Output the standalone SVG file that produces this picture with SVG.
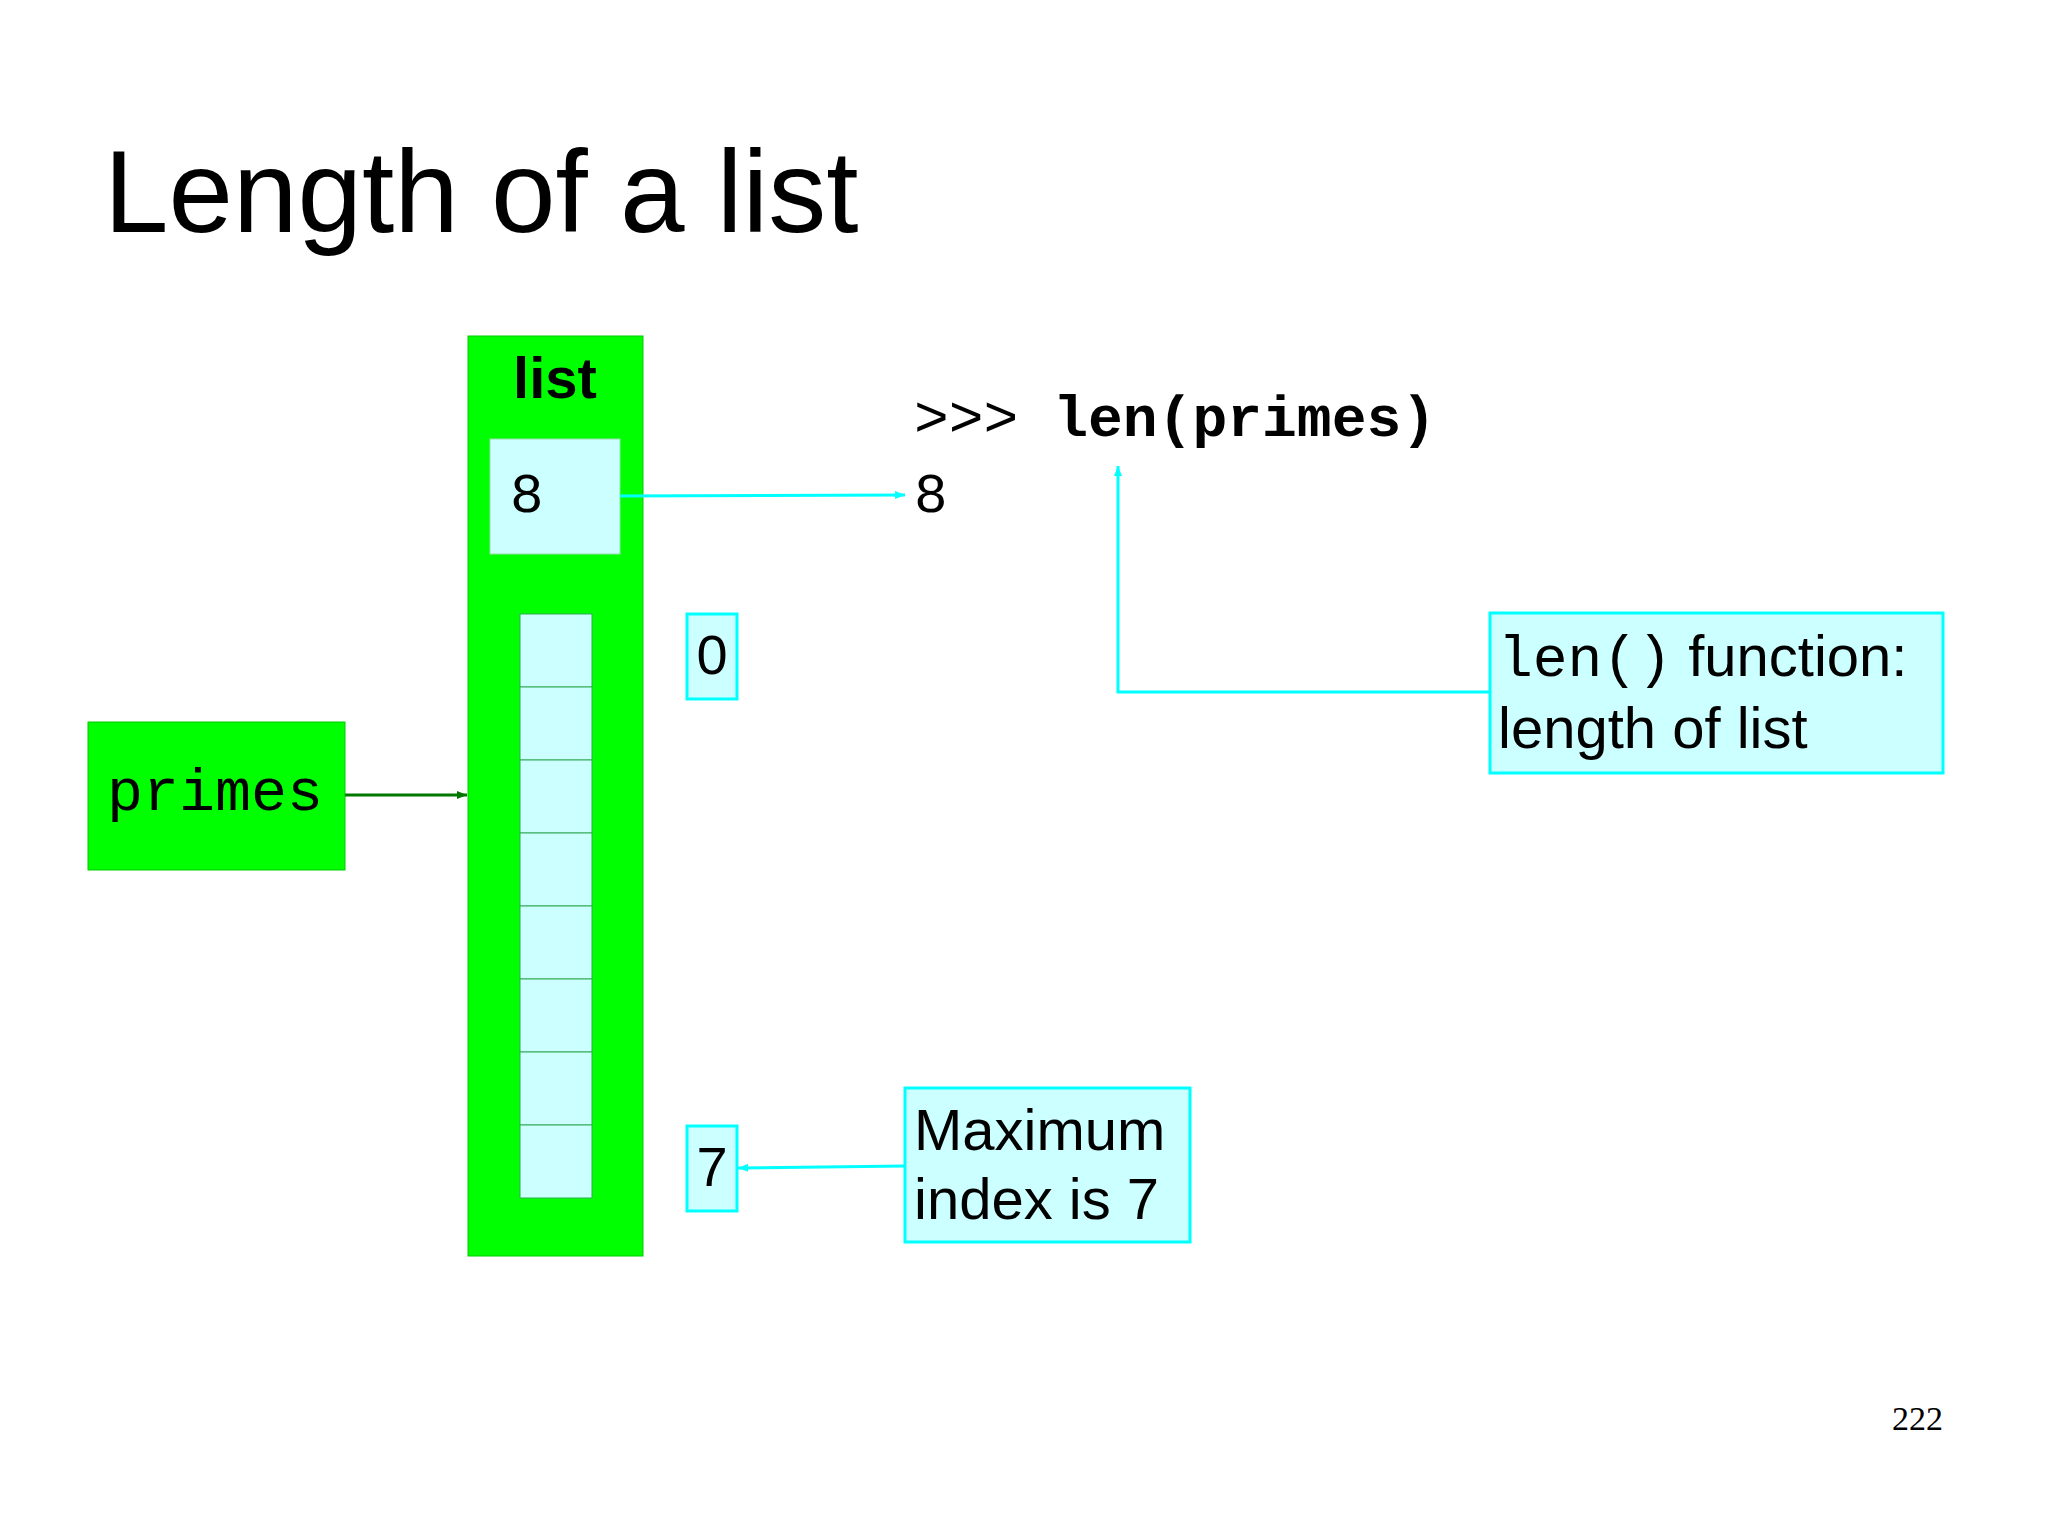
<svg xmlns="http://www.w3.org/2000/svg" width="2048" height="1535" viewBox="0 0 2048 1535">
<style>
.s{font-family:"Liberation Sans",Arial,sans-serif}
.m{font-family:"Liberation Mono","DejaVu Sans Mono",monospace}
.cy{fill:#ccffff;stroke:#00ffff;stroke-width:3}
.cell{fill:#ccffff;stroke:#33aa55;stroke-width:1}
</style>
<defs>
<marker id="ac" markerWidth="10" markerHeight="8" refX="10" refY="4" orient="auto" markerUnits="userSpaceOnUse" viewBox="0 0 10 8"><path d="M0,0L10,4L0,8z" fill="#00ffff"/></marker>
<marker id="ag" markerWidth="10" markerHeight="8" refX="10" refY="4" orient="auto" markerUnits="userSpaceOnUse" viewBox="0 0 10 8"><path d="M0,0L10,4L0,8z" fill="#007700"/></marker>
</defs>
<rect width="2048" height="1535" fill="#fff"/>
<text class="s" x="104" y="232" font-size="116">Length of a list</text>
<g id="list">
<rect x="468" y="336" width="175" height="920" fill="#00ff00" stroke="#00cc00"/>
<text class="s" x="555" y="398" font-size="58" font-weight="bold" text-anchor="middle">list</text>
<rect x="490" y="439" width="130" height="115" fill="#ccffff" stroke="#99ddaa"/>
<text class="m" x="510" y="512" font-size="56">8</text>
<g class="cell">
<rect x="520" y="614" width="72" height="73"/><rect x="520" y="687" width="72" height="73"/><rect x="520" y="760" width="72" height="73"/><rect x="520" y="833" width="72" height="73"/><rect x="520" y="906" width="72" height="73"/><rect x="520" y="979" width="72" height="73"/><rect x="520" y="1052" width="72" height="73"/><rect x="520" y="1125" width="72" height="73"/>
</g>
</g>
<g id="idx0"><rect class="cy" x="687" y="614" width="50" height="85"/><text class="s" x="712" y="674" font-size="56" text-anchor="middle">0</text></g>
<g id="idx7"><rect class="cy" x="687" y="1126" width="50" height="85"/><text class="s" x="712" y="1186" font-size="56" text-anchor="middle">7</text></g>
<g id="primes"><rect x="88" y="722" width="257" height="148" fill="#00ff00" stroke="#00cc00"/><text class="m" x="107" y="810" font-size="60">primes</text></g>
<g id="code"><text class="m" x="914" y="436" font-size="58">&gt;&gt;&gt; <tspan font-weight="bold">len(primes)</tspan></text><text class="m" x="914" y="512" font-size="56">8</text></g>
<g id="lenbox"><rect class="cy" x="1490" y="613" width="453" height="160"/><text class="s" x="1498" y="676" font-size="58"><tspan class="m">len()</tspan> function:</text><text class="s" x="1498" y="748" font-size="58">length of list</text></g>
<g id="maxbox"><rect class="cy" x="905" y="1088" width="285" height="154"/><text class="s" x="914" y="1150" font-size="58">Maximum</text><text class="s" x="914" y="1219" font-size="58">index is 7</text></g>
<g id="connectors" fill="none">
<line x1="345" y1="795" x2="467" y2="795" stroke="#007700" stroke-width="3" marker-end="url(#ag)"/>
<line x1="620" y1="496" x2="905" y2="495" stroke="#00ffff" stroke-width="3" marker-end="url(#ac)"/>
<polyline points="1490,692 1118,692 1118,466" stroke="#00ffff" stroke-width="3" marker-end="url(#ac)"/>
<line x1="905" y1="1166" x2="738" y2="1168" stroke="#00ffff" stroke-width="3" marker-end="url(#ac)"/>
</g>
<text x="1943" y="1430" font-family="Liberation Serif,serif" font-size="34" text-anchor="end">222</text>
</svg>
